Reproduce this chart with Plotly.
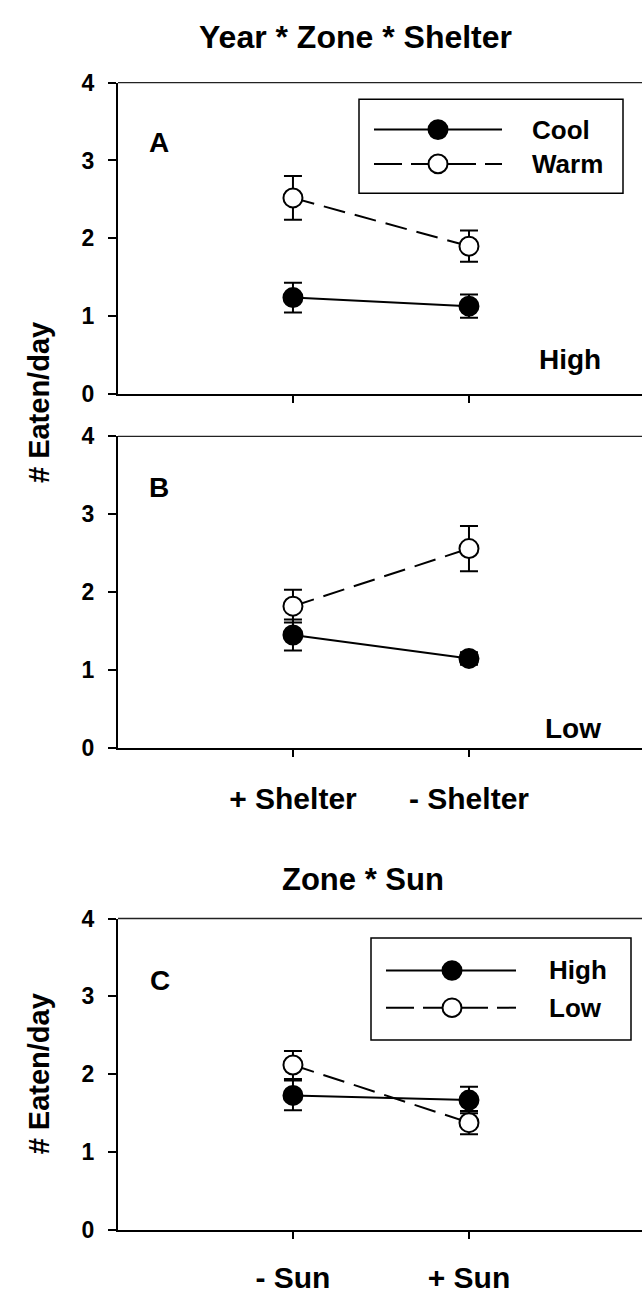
import plotly.graph_objects as go

# ---------------- data ----------------
shelter_cats = ["+ Shelter", "- Shelter"]
sun_cats = ["- Sun", "+ Sun"]
cat_pos = [1, 2]

a_cool = [1.24, 1.13]
a_cool_se = [0.19, 0.15]
a_warm = [2.52, 1.90]
a_warm_se = [0.28, 0.20]

b_cool = [1.45, 1.15]
b_cool_se = [0.20, 0.08]
b_warm = [1.82, 2.56]
b_warm_se = [0.21, 0.29]

c_high = [1.73, 1.67]
c_high_se = [0.19, 0.17]
c_low = [2.12, 1.38]
c_low_se = [0.18, 0.15]

y_ticks = [0, 1, 2, 3, 4]

# ---------------- layout helpers ----------------
W, H = 642, 1300
FONT = "Liberation Sans, Arial, sans-serif"


def px(x):
    return x / W


def py(y):
    return 1 - y / H


fig = go.Figure()

MS = 19
DASH = "22px,10px"


def add_pair(xa, ya, filled_y, filled_se, open_y, open_se):
    fig.add_trace(go.Scatter(
        x=cat_pos, y=filled_y, xaxis=xa, yaxis=ya, mode="lines+markers",
        line=dict(color="black", width=2),
        marker=dict(size=MS, color="black", line=dict(color="black", width=2)),
        error_y=dict(type="data", array=filled_se, visible=True,
                     color="black", thickness=2, width=9),
        showlegend=False, hoverinfo="skip"))
    fig.add_trace(go.Scatter(
        x=cat_pos, y=open_y, xaxis=xa, yaxis=ya, mode="lines+markers",
        line=dict(color="black", width=2, dash=DASH),
        marker=dict(size=MS, color="white", line=dict(color="black", width=2)),
        error_y=dict(type="data", array=open_se, visible=True,
                     color="black", thickness=2, width=9),
        showlegend=False, hoverinfo="skip"))


add_pair("x", "y", a_cool, a_cool_se, a_warm, a_warm_se)
add_pair("x2", "y2", b_cool, b_cool_se, b_warm, b_warm_se)
add_pair("x3", "y3", c_high, c_high_se, c_low, c_low_se)

# panel extents in pixels (top, bottom)
panels = [(71, 389), (432, 750), (924, 1242)]
x_dom = [118 / W, 1.0]
x_range = [0.006, 2.983]

axis_line = dict(showline=True, linecolor="black", linewidth=2,
                 showgrid=False, zeroline=False)
tickfont = dict(family=FONT, size=23, color="black", weight="bold")
catfont = dict(family=FONT, size=30, color="black", weight="bold")

shapes = []
layout_axes = {}
names = [("xaxis", "yaxis", "y"), ("xaxis2", "yaxis2", "y2"), ("xaxis3", "yaxis3", "y3")]
xlabels = [None, shelter_cats, sun_cats]
standoffs = [0, 16, 13]
for i, (xn, yn, yanc) in enumerate(names):
    top, bot = panels[i]
    xa = dict(axis_line, domain=x_dom, range=x_range, anchor=yanc,
              ticks="outside", ticklen=7, tickwidth=2,
              tickcolor="black", tickvals=cat_pos, tickfont=catfont)
    if xlabels[i] is None:
        xa.update(ticktext=["", ""], showticklabels=False)
    else:
        xa.update(ticktext=xlabels[i], showticklabels=True,
                  ticklabelstandoff=standoffs[i])
    ya = dict(axis_line, domain=[py(bot), py(top)], range=[0, 4],
              anchor="x" if i == 0 else "x%d" % (i + 1),
              tickvals=y_ticks, ticks="outside", ticklen=8, tickwidth=2,
              tickcolor="black", tickfont=tickfont, ticklabelstandoff=9)
    layout_axes[xn] = xa
    layout_axes[yn] = ya
    # thinner top frame line, as in the reference
    shapes.append(dict(type="line", xref="paper", yref="paper",
                       x0=x_dom[0], x1=1.0, y0=py(top), y1=py(top),
                       line=dict(color="#222", width=1.4), layer="above"))

fig.update_layout(**layout_axes)

# ---------------- text annotations ----------------
ann = []


def text(t, x, y, size, xanchor="center", angle=0):
    ann.append(dict(text=t, x=px(x), y=py(y), xref="paper", yref="paper",
                    showarrow=False, xanchor=xanchor, yanchor="middle",
                    textangle=angle,
                    font=dict(family=FONT, size=size, color="black", weight="bold")))


text("Year * Zone * Shelter", 356, 24, 32)
text("Zone * Sun", 363, 884, 31)
text("# Eaten/day", 39, 398, 29, angle=-90)
text("# Eaten/day", 39, 1083, 29, angle=-90)
text("A", 159, 132, 28)
text("B", 159, 484, 28)
text("C", 160, 987, 28)
text("High", 570, 354, 28)
text("Low", 573, 730, 28)

# ---------------- manual legends ----------------


def legend(box, line_x, mark_x, rows, text_x, labels):
    x0, x1, y0, y1 = box
    shapes.append(dict(type="rect", xref="paper", yref="paper",
                       x0=px(x0), x1=px(x1), y0=py(y1), y1=py(y0),
                       line=dict(color="black", width=1.5), fillcolor="white",
                       layer="above"))
    for j, (ry, lab) in enumerate(zip(rows, labels)):
        dash = "solid" if j == 0 else "28px,9px"
        shapes.append(dict(type="line", xref="paper", yref="paper",
                           x0=px(line_x[0]), x1=px(line_x[1]), y0=py(ry), y1=py(ry),
                           line=dict(color="black", width=2, dash=dash), layer="above"))
        r = MS / 2
        shapes.append(dict(type="circle", xref="paper", yref="paper",
                           x0=px(mark_x - r), x1=px(mark_x + r),
                           y0=py(ry + r), y1=py(ry - r),
                           fillcolor="black" if j == 0 else "white",
                           line=dict(color="black", width=2), layer="above"))
        text(lab, text_x, ry, 26, xanchor="left")


legend((359, 623, 88, 184), (374, 502), 438, (119, 154), 530, ["Cool", "Warm"])
legend((371, 631, 944, 1048), (386, 516), 452, (977, 1015), 547, ["High", "Low"])

fig.update_layout(
    width=W, height=H, autosize=False,
    margin=dict(l=0, r=0, t=0, b=0),
    paper_bgcolor="white", plot_bgcolor="white",
    annotations=ann, shapes=shapes, showlegend=False,
)

fig.write_html(
    "out.html",
    config={"displayModeBar": False, "staticPlot": True},
    post_script="document.body.style.margin='0';document.body.style.overflow='hidden';",
)
